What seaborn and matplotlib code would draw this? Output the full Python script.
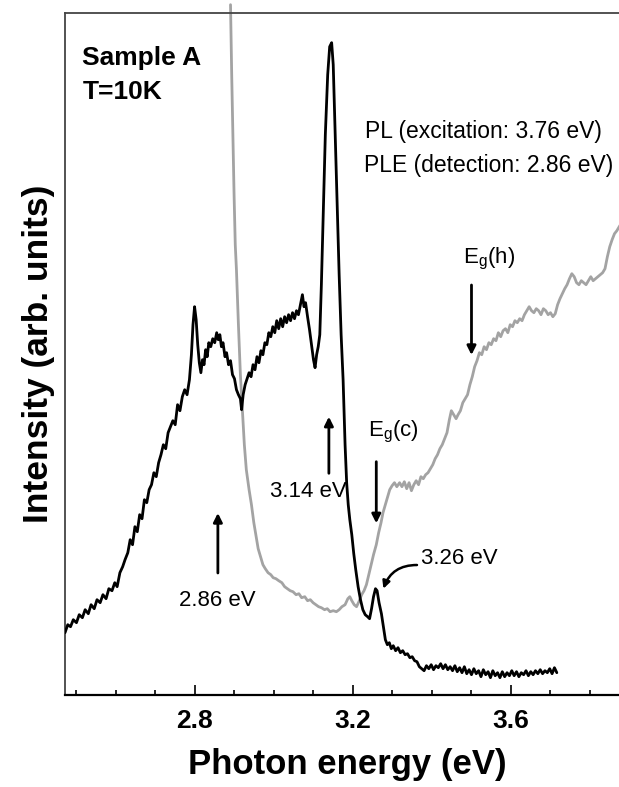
import numpy as np
import pandas as pd
import matplotlib
matplotlib.use("Agg")
import matplotlib.pyplot as plt
from matplotlib.ticker import MultipleLocator
import seaborn as sns

# ---------------- data ----------------
pl_energy = [2.471, 2.478, 2.485, 2.492, 2.500, 2.507, 2.515, 2.522, 2.530, 2.537,
             2.545, 2.552, 2.560, 2.567, 2.575, 2.582, 2.590, 2.597, 2.603, 2.610,
             2.617, 2.623, 2.630, 2.636, 2.642, 2.648, 2.654, 2.660, 2.666, 2.672,
             2.678, 2.684, 2.690, 2.696, 2.702, 2.708, 2.714, 2.720, 2.726, 2.732,
             2.738, 2.744, 2.750, 2.756, 2.762, 2.768, 2.774, 2.780, 2.786, 2.791,
             2.795, 2.799, 2.803, 2.807, 2.811, 2.815, 2.819, 2.823, 2.827, 2.831,
             2.835, 2.840, 2.845, 2.850, 2.855, 2.859, 2.863, 2.867, 2.871, 2.876,
             2.880, 2.885, 2.890, 2.895, 2.900, 2.905, 2.910, 2.915, 2.918, 2.922,
             2.927, 2.932, 2.937, 2.942, 2.947, 2.952, 2.957, 2.962, 2.967, 2.972,
             2.977, 2.982, 2.987, 2.992, 2.997, 3.002, 3.007, 3.012, 3.017, 3.022,
             3.027, 3.032, 3.037, 3.042, 3.047, 3.052, 3.057, 3.062, 3.067, 3.072,
             3.076, 3.080, 3.085, 3.090, 3.095, 3.100, 3.104, 3.108, 3.112, 3.116,
             3.120, 3.124, 3.130, 3.136, 3.141, 3.146, 3.150, 3.155, 3.160, 3.165,
             3.170, 3.175, 3.180, 3.184, 3.188, 3.192, 3.197, 3.202, 3.207, 3.213,
             3.219, 3.225, 3.231, 3.237, 3.242, 3.247, 3.252, 3.257, 3.261, 3.266,
             3.272, 3.277, 3.282, 3.287, 3.292, 3.297, 3.302, 3.308, 3.314, 3.320,
             3.326, 3.332, 3.338, 3.344, 3.350, 3.356, 3.362, 3.368, 3.374, 3.380,
             3.386, 3.392, 3.398, 3.404, 3.410, 3.416, 3.422, 3.428, 3.434, 3.440,
             3.446, 3.452, 3.458, 3.464, 3.470, 3.476, 3.482, 3.488, 3.494, 3.500,
             3.506, 3.512, 3.518, 3.524, 3.530, 3.536, 3.542, 3.548, 3.554, 3.560,
             3.566, 3.572, 3.578, 3.584, 3.590, 3.596, 3.602, 3.608, 3.614, 3.620,
             3.626, 3.632, 3.638, 3.644, 3.650, 3.656, 3.662, 3.668, 3.674, 3.680,
             3.686, 3.692, 3.698, 3.704, 3.710, 3.716]
pl_intensity = [62, 70, 68, 75, 72, 80, 77, 85, 81, 90,
                86, 95, 92, 100, 96, 106, 104, 112, 108, 122,
                128, 135, 142, 155, 150, 168, 163, 180, 176, 195,
                192, 205, 210, 222, 218, 232, 240, 250, 246, 262,
                268, 274, 270, 290, 284, 298, 305, 300, 315, 340,
                370, 388, 375, 350, 332, 322, 335, 330, 345, 338,
                352, 348, 356, 352, 362, 355, 360, 348, 352, 338,
                342, 330, 334, 320, 316, 305, 300, 296, 285, 300,
                310, 316, 322, 318, 330, 325, 338, 332, 344, 340,
                352, 350, 362, 358, 368, 362, 374, 366, 376, 368,
                378, 372, 380, 374, 382, 376, 384, 380, 390, 400,
                388, 392, 378, 365, 350, 335, 327, 340, 348, 360,
                410, 470, 560, 620, 648, 652, 630, 560, 490, 420,
                360, 315, 250, 212, 190, 175, 160, 141, 125, 108,
                95, 85, 80, 78, 76, 86, 98, 106, 104, 92,
                81, 68, 55, 50, 52, 46, 49, 44, 47, 42,
                44, 40, 41, 37, 38, 34, 33, 28, 26, 24,
                29, 26, 30, 25, 29, 27, 31, 26, 30, 25,
                28, 24, 29, 23, 27, 22, 28, 21, 25, 20,
                26, 21, 24, 18, 25, 20, 23, 17, 24, 19,
                22, 17, 23, 18, 22, 19, 24, 19, 23, 18,
                22, 20, 24, 19, 23, 20, 24, 21, 25, 21,
                24, 22, 26, 21, 27, 22]

ple_energy = [2.890, 2.893, 2.896, 2.899, 2.902, 2.905, 2.910, 2.915, 2.920, 2.925,
              2.930, 2.937, 2.943, 2.949, 2.955, 2.960, 2.966, 2.972, 2.978, 2.985,
              2.992, 2.998, 3.005, 3.012, 3.020, 3.027, 3.034, 3.041, 3.048, 3.056,
              3.063, 3.070, 3.078, 3.085, 3.092, 3.099, 3.106, 3.113, 3.120, 3.128,
              3.135, 3.142, 3.150, 3.158, 3.165, 3.172, 3.180, 3.187, 3.192, 3.197,
              3.203, 3.209, 3.215, 3.222, 3.228, 3.234, 3.240, 3.246, 3.252, 3.259,
              3.265, 3.271, 3.276, 3.282, 3.288, 3.293, 3.299, 3.305, 3.311, 3.318,
              3.324, 3.330, 3.336, 3.342, 3.348, 3.354, 3.360, 3.366, 3.372, 3.378,
              3.384, 3.390, 3.396, 3.402, 3.408, 3.414, 3.420, 3.426, 3.432, 3.438,
              3.444, 3.449, 3.455, 3.461, 3.466, 3.472, 3.478, 3.484, 3.490, 3.496,
              3.502, 3.508, 3.514, 3.520, 3.526, 3.532, 3.538, 3.544, 3.550, 3.556,
              3.562, 3.568, 3.574, 3.580, 3.586, 3.592, 3.598, 3.604, 3.610, 3.616,
              3.622, 3.628, 3.634, 3.640, 3.646, 3.652, 3.658, 3.664, 3.670, 3.676,
              3.682, 3.688, 3.694, 3.700, 3.706, 3.712, 3.718, 3.724, 3.730, 3.736,
              3.742, 3.748, 3.754, 3.760, 3.766, 3.772, 3.778, 3.784, 3.790, 3.796,
              3.802, 3.808, 3.814, 3.820, 3.826, 3.832, 3.838, 3.844, 3.850, 3.856,
              3.862, 3.868, 3.874, 3.880]
ple_intensity = [690, 620, 560, 500, 450, 425, 370, 320, 285, 250,
                 225, 205, 190, 172, 158, 146, 138, 130, 126, 122,
                 120, 117, 116, 114, 112, 108, 106, 104, 103, 100,
                 101, 97, 98, 94, 95, 92, 90, 88, 87, 85,
                 86, 83, 84, 83, 85, 88, 90, 96, 98, 94,
                 90, 88, 93, 100, 104, 110, 120, 130, 140, 150,
                 162, 172, 182, 190, 198, 205, 209, 212, 208, 212,
                 208, 213, 206, 212, 204, 210, 214, 210, 218, 216,
                 220, 222, 226, 230, 236, 240, 246, 250, 256, 262,
                 275, 284, 280, 276, 280, 284, 292, 296, 300, 310,
                 318, 328, 334, 342, 340, 348, 345, 352, 350, 356,
                 354, 362, 358, 364, 366, 362, 370, 368, 374, 372,
                 376, 374, 380, 384, 388, 384, 382, 386, 384, 380,
                 386, 384, 380, 382, 378, 381, 390, 396, 401, 406,
                 410, 416, 421, 418, 412, 410, 414, 412, 410, 414,
                 418, 414, 416, 418, 420, 422, 426, 438, 448, 455,
                 461, 464, 468, 472]

major_ticks = [2.8, 3.2, 3.6]
tick_labels = ["2.8", "3.2", "3.6"]

# ---------------- style ----------------
sns.set_style("ticks")
plt.rcParams["font.family"] = ["Liberation Sans", "DejaVu Sans"]
plt.rcParams["mathtext.fontset"] = "custom"
plt.rcParams["mathtext.rm"] = "Liberation Sans"
plt.rcParams["text.color"] = "black"
plt.rcParams["axes.labelcolor"] = "black"
plt.rcParams["xtick.color"] = "black"
plt.rcParams["xtick.labelcolor"] = "black"

W, H = 619, 787
fig = plt.figure(figsize=(W / 100, H / 100), dpi=100)
ax = fig.add_axes([65 / W, (H - 694.7) / H, (629.5 - 65) / W, (694.7 - 12.7) / H])

pl_df = pd.DataFrame({"E": pl_energy, "I": pl_intensity})
ple_df = pd.DataFrame({"E": ple_energy, "I": ple_intensity})

sns.lineplot(data=ple_df, x="E", y="I", ax=ax, color="#a3a3a3", lw=2.0,
             sort=False, estimator=None, clip_on=False, zorder=2)
sns.lineplot(data=pl_df, x="E", y="I", ax=ax, color="black", lw=2.0,
             sort=False, estimator=None, zorder=3)

ax.set_xlim(2.471, 3.9)
ax.set_ylim(0, 682)

ax.set_xticks(major_ticks)
ax.set_xticklabels(tick_labels, fontsize=19, fontweight="bold", color="black")
ax.xaxis.set_minor_locator(MultipleLocator(0.1))
ax.tick_params(axis="x", which="major", direction="in", length=7.5, width=1.2,
               pad=10, top=False, color="black")
ax.tick_params(axis="x", which="minor", direction="in", length=3.8, width=1.2,
               top=False, color="black")
ax.set_yticks([])

for side in ["left", "top", "bottom", "right"]:
    ax.spines[side].set_visible(True)
ax.spines["bottom"].set_linewidth(1.6)
ax.spines["bottom"].set_color("black")
ax.spines["left"].set_linewidth(1.3)
ax.spines["left"].set_color("#444444")
ax.spines["top"].set_linewidth(1.3)
ax.spines["top"].set_color("#444444")

ax.set_xlabel("Photon energy (eV)", fontsize=25, fontweight="bold", labelpad=11,
              color="black")
ax.set_ylabel("Intensity (arb. units)", fontsize=25.5, fontweight="bold", labelpad=7,
              color="black")

# ---------------- annotations ----------------
ax.text(2.515, 629.7, "Sample A", fontsize=19, fontweight="bold", va="baseline")
ax.text(2.515, 595.7, "T=10K", fontsize=19, fontweight="bold", va="baseline")
ax.text(3.2296, 556.7, "PL (excitation: 3.76 eV)", fontsize=16.5, va="baseline")
ax.text(3.227, 522.7, "PLE (detection: 2.86 eV)", fontsize=16.5, va="baseline")

arrow_kw = dict(arrowstyle="-|>", lw=2.0, color="black", mutation_scale=13,
                shrinkA=0, shrinkB=0)

ax.annotate("", xy=(2.858, 181.7), xytext=(2.858, 121.7), arrowprops=arrow_kw)
ax.text(2.857, 94.7, "2.86 eV", fontsize=16, ha="center", va="center")

ax.annotate("", xy=(3.139, 278), xytext=(3.139, 221.4), arrowprops=arrow_kw)
ax.text(3.087, 203, "3.14 eV", fontsize=16, ha="center", va="center")

ax.annotate("", xy=(3.259, 171.4), xytext=(3.259, 233), arrowprops=arrow_kw)
ax.text(3.237, 258, r"E$_\mathregular{g}$(c)", fontsize=16, va="baseline")

ax.annotate("", xy=(3.500, 339.7), xytext=(3.500, 409.7), arrowprops=arrow_kw)
ax.text(3.479, 431.4, r"E$_\mathregular{g}$(h)", fontsize=16, va="baseline")

ax.text(3.373, 136.7, "3.26 eV", fontsize=16, va="center")
ax.annotate("", xy=(3.277, 106), xytext=(3.362, 129.7),
            arrowprops=dict(arrowstyle="-|>", lw=1.8, color="black",
                            mutation_scale=11, shrinkA=0, shrinkB=0,
                            connectionstyle="angle3,angleA=0,angleB=70"))

fig.savefig("out.png", dpi=100)
